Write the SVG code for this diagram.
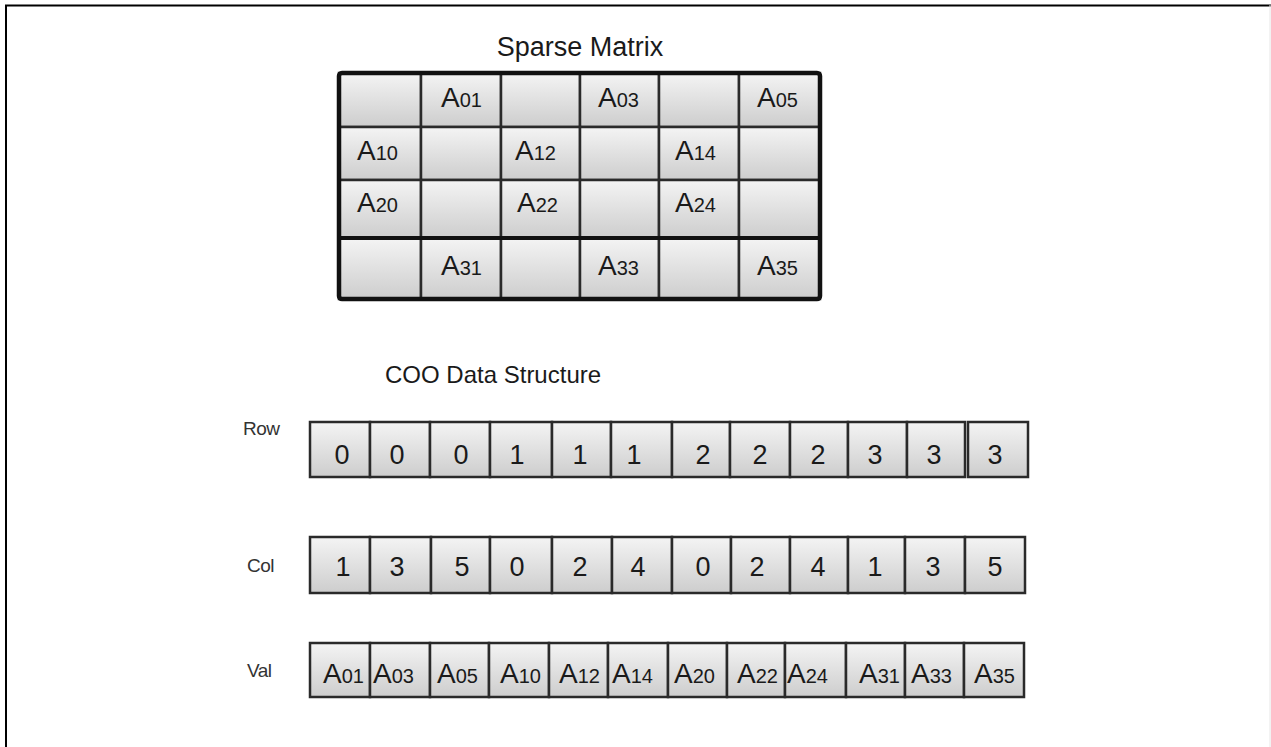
<svg xmlns="http://www.w3.org/2000/svg" width="1271" height="747" viewBox="0 0 1271 747">
  <defs>
    <linearGradient id="cellGrad" x1="0" y1="0" x2="0" y2="1">
      <stop offset="0" stop-color="#f4f4f4"/>
      <stop offset="1" stop-color="#cdcdcd"/>
    </linearGradient>
  </defs>
  <style>
    text { font-family: "Liberation Sans", Arial, sans-serif; fill: #1a1a1a; }
    .title { font-size: 27px; }
    .heading { font-size: 24px; }
    .label { font-size: 19px; fill: #333; letter-spacing: -0.5px; }
    .a { font-size: 28px; }
    .sub { font-size: 20px; }
    .num { font-size: 27px; text-anchor: middle; }
    .cell { fill: url(#cellGrad); stroke: #2a2a2a; stroke-width: 2.5; }
    .frame { fill: none; stroke: #111; stroke-width: 4.5; }
    .page { stroke: #000; stroke-width: 2; fill: none; }
  </style>

  <rect width="1271" height="747" fill="#ffffff"/>
  <!-- page frame -->
  <path class="page" d="M6,748 V5.5 H1271"/>
  <line x1="1270" y1="5" x2="1270" y2="747" stroke="#e6e6e6" stroke-width="1"/>

  <!-- sparse matrix -->
  <g id="sparse-matrix">
    <text class="title" x="580" y="56" text-anchor="middle">Sparse Matrix</text>
    <g>
      <rect class="cell" x="339" y="73" width="82" height="54"/>
      <rect class="cell" x="421" y="73" width="80" height="54"/>
      <rect class="cell" x="501" y="73" width="79" height="54"/>
      <rect class="cell" x="580" y="73" width="79" height="54"/>
      <rect class="cell" x="659" y="73" width="80" height="54"/>
      <rect class="cell" x="739" y="73" width="81" height="54"/>

      <rect class="cell" x="339" y="127" width="82" height="53"/>
      <rect class="cell" x="421" y="127" width="80" height="53"/>
      <rect class="cell" x="501" y="127" width="79" height="53"/>
      <rect class="cell" x="580" y="127" width="79" height="53"/>
      <rect class="cell" x="659" y="127" width="80" height="53"/>
      <rect class="cell" x="739" y="127" width="81" height="53"/>

      <rect class="cell" x="339" y="180" width="82" height="58"/>
      <rect class="cell" x="421" y="180" width="80" height="58"/>
      <rect class="cell" x="501" y="180" width="79" height="58"/>
      <rect class="cell" x="580" y="180" width="79" height="58"/>
      <rect class="cell" x="659" y="180" width="80" height="58"/>
      <rect class="cell" x="739" y="180" width="81" height="58"/>

      <rect class="cell" x="339" y="238" width="82" height="61"/>
      <rect class="cell" x="421" y="238" width="80" height="61"/>
      <rect class="cell" x="501" y="238" width="79" height="61"/>
      <rect class="cell" x="580" y="238" width="79" height="61"/>
      <rect class="cell" x="659" y="238" width="80" height="61"/>
      <rect class="cell" x="739" y="238" width="81" height="61"/>
    </g>
    <line x1="339" y1="238" x2="820" y2="238" stroke="#111" stroke-width="4"/>
    <rect class="frame" x="339" y="73" width="481" height="226" rx="3"/>

    <text x="441" y="107"><tspan class="a">A</tspan><tspan class="sub">01</tspan></text>
    <text x="598" y="107"><tspan class="a">A</tspan><tspan class="sub">03</tspan></text>
    <text x="757" y="107"><tspan class="a">A</tspan><tspan class="sub">05</tspan></text>
    <text x="357" y="160"><tspan class="a">A</tspan><tspan class="sub">10</tspan></text>
    <text x="515" y="160"><tspan class="a">A</tspan><tspan class="sub">12</tspan></text>
    <text x="675" y="160"><tspan class="a">A</tspan><tspan class="sub">14</tspan></text>
    <text x="357" y="212"><tspan class="a">A</tspan><tspan class="sub">20</tspan></text>
    <text x="517" y="212"><tspan class="a">A</tspan><tspan class="sub">22</tspan></text>
    <text x="675" y="212"><tspan class="a">A</tspan><tspan class="sub">24</tspan></text>
    <text x="441" y="275"><tspan class="a">A</tspan><tspan class="sub">31</tspan></text>
    <text x="598" y="275"><tspan class="a">A</tspan><tspan class="sub">33</tspan></text>
    <text x="757" y="275"><tspan class="a">A</tspan><tspan class="sub">35</tspan></text>
  </g>

  <text class="heading" x="385" y="383">COO Data Structure</text>

  <!-- row index array -->
  <g id="row-array">
    <text class="label" x="243" y="435">Row</text>
    <rect class="cell" x="310" y="422" width="60" height="55"/>
    <rect class="cell" x="370" y="422" width="60" height="55"/>
    <rect class="cell" x="430" y="422" width="60" height="55"/>
    <rect class="cell" x="490" y="422" width="62" height="55"/>
    <rect class="cell" x="552" y="422" width="59" height="55"/>
    <rect class="cell" x="611" y="422" width="61" height="55"/>
    <rect class="cell" x="672" y="422" width="58" height="55"/>
    <rect class="cell" x="730" y="422" width="60" height="55"/>
    <rect class="cell" x="790" y="422" width="58" height="55"/>
    <rect class="cell" x="848" y="422" width="59" height="55"/>
    <rect class="cell" x="907" y="422" width="58" height="55"/>
    <rect class="cell" x="968" y="422" width="60" height="55"/>
    <text class="num" x="342" y="464">0</text>
    <text class="num" x="397" y="464">0</text>
    <text class="num" x="461" y="464">0</text>
    <text class="num" x="517" y="464">1</text>
    <text class="num" x="580" y="464">1</text>
    <text class="num" x="634" y="464">1</text>
    <text class="num" x="703" y="464">2</text>
    <text class="num" x="760" y="464">2</text>
    <text class="num" x="818" y="464">2</text>
    <text class="num" x="875" y="464">3</text>
    <text class="num" x="934" y="464">3</text>
    <text class="num" x="995" y="464">3</text>
  </g>

  <!-- column index array -->
  <g id="col-array">
    <text class="label" x="247" y="572">Col</text>
    <rect class="cell" x="310" y="537" width="60" height="56"/>
    <rect class="cell" x="370" y="537" width="61" height="56"/>
    <rect class="cell" x="431" y="537" width="59" height="56"/>
    <rect class="cell" x="490" y="537" width="62" height="56"/>
    <rect class="cell" x="552" y="537" width="60" height="56"/>
    <rect class="cell" x="612" y="537" width="60" height="56"/>
    <rect class="cell" x="672" y="537" width="59" height="56"/>
    <rect class="cell" x="731" y="537" width="59" height="56"/>
    <rect class="cell" x="790" y="537" width="58" height="56"/>
    <rect class="cell" x="848" y="537" width="57" height="56"/>
    <rect class="cell" x="905" y="537" width="60" height="56"/>
    <rect class="cell" x="965" y="537" width="60" height="56"/>
    <text class="num" x="343" y="576">1</text>
    <text class="num" x="397" y="576">3</text>
    <text class="num" x="462" y="576">5</text>
    <text class="num" x="517" y="576">0</text>
    <text class="num" x="580" y="576">2</text>
    <text class="num" x="638" y="576">4</text>
    <text class="num" x="703" y="576">0</text>
    <text class="num" x="757" y="576">2</text>
    <text class="num" x="818" y="576">4</text>
    <text class="num" x="875" y="576">1</text>
    <text class="num" x="933" y="576">3</text>
    <text class="num" x="995" y="576">5</text>
  </g>

  <!-- value array -->
  <g id="val-array">
    <text class="label" x="247" y="677">Val</text>
    <rect class="cell" x="310" y="643" width="60" height="54"/>
    <rect class="cell" x="370" y="643" width="60" height="54"/>
    <rect class="cell" x="430" y="643" width="59" height="54"/>
    <rect class="cell" x="489" y="643" width="60" height="54"/>
    <rect class="cell" x="549" y="643" width="59" height="54"/>
    <rect class="cell" x="608" y="643" width="60" height="54"/>
    <rect class="cell" x="668" y="643" width="59" height="54"/>
    <rect class="cell" x="727" y="643" width="58" height="54"/>
    <rect class="cell" x="785" y="643" width="61" height="54"/>
    <rect class="cell" x="846" y="643" width="59" height="54"/>
    <rect class="cell" x="905" y="643" width="59" height="54"/>
    <rect class="cell" x="964" y="643" width="60" height="54"/>
    <text x="323" y="683"><tspan class="a">A</tspan><tspan class="sub">01</tspan></text>
    <text x="373" y="683"><tspan class="a">A</tspan><tspan class="sub">03</tspan></text>
    <text x="437" y="683"><tspan class="a">A</tspan><tspan class="sub">05</tspan></text>
    <text x="500" y="683"><tspan class="a">A</tspan><tspan class="sub">10</tspan></text>
    <text x="559" y="683"><tspan class="a">A</tspan><tspan class="sub">12</tspan></text>
    <text x="612" y="683"><tspan class="a">A</tspan><tspan class="sub">14</tspan></text>
    <text x="674" y="683"><tspan class="a">A</tspan><tspan class="sub">20</tspan></text>
    <text x="737" y="683"><tspan class="a">A</tspan><tspan class="sub">22</tspan></text>
    <text x="787" y="683"><tspan class="a">A</tspan><tspan class="sub">24</tspan></text>
    <text x="859" y="683"><tspan class="a">A</tspan><tspan class="sub">31</tspan></text>
    <text x="911" y="683"><tspan class="a">A</tspan><tspan class="sub">33</tspan></text>
    <text x="974" y="683"><tspan class="a">A</tspan><tspan class="sub">35</tspan></text>
  </g>
</svg>
